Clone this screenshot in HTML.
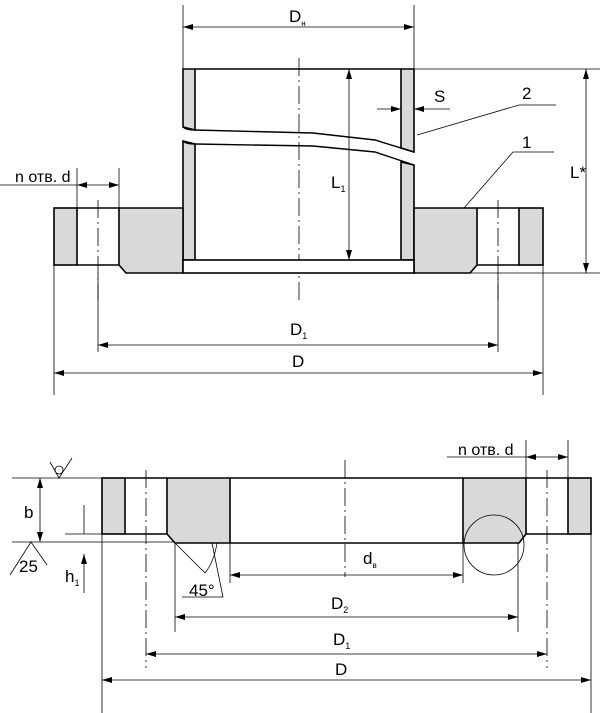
<!DOCTYPE html>
<html><head><meta charset="utf-8"><style>
html,body{margin:0;padding:0;background:#fff;}
svg{display:block;}
text{font-family:"Liberation Sans",sans-serif;fill:#000;}
</style></head><body>
<svg width="600" height="713" viewBox="0 0 600 713" xmlns="http://www.w3.org/2000/svg">
<defs>
<marker id="a" viewBox="0 0 10 6" refX="10" refY="3" markerWidth="10" markerHeight="6" orient="auto-start-reverse" markerUnits="userSpaceOnUse"><path d="M0,0 L10,3 L0,6 Z" fill="#000"/></marker>
</defs>
<g stroke="#000" fill="none" stroke-width="0.8">
<line x1="183" y1="5" x2="183" y2="69"/><line x1="414" y1="5" x2="414" y2="69"/>
<line x1="183" y1="27" x2="414" y2="27" marker-start="url(#a)" marker-end="url(#a)"/>
<line x1="299" y1="58" x2="299" y2="300" stroke-dasharray="18,4,2,4"/>
<line x1="98" y1="200" x2="98" y2="300" stroke-dasharray="18,4,2,4"/>
<line x1="498" y1="200" x2="498" y2="300" stroke-dasharray="18,4,2,4"/>
<path d="M183,69 L195,69 L195,130 L183,127 Z" fill="#d9d9d9" stroke-width="1.6"/>
<path d="M401,69 L414,69 L414,152 L401,148 Z" fill="#d9d9d9" stroke-width="1.6"/>
<path d="M183,141 L195,144 L195,260 L183,260 Z" fill="#d9d9d9" stroke-width="1.6"/>
<path d="M401,162 L414,165 L414,260 L401,260 Z" fill="#d9d9d9" stroke-width="1.6"/>
<line x1="195" y1="69" x2="401" y2="69" stroke-width="1.6"/>
<path d="M183,127 Q186,130 195,130 L313,133 L375,140 L414,152" stroke-width="1.4"/>
<path d="M183,141 Q186,144 195,144 L313,146 L375,152 L414,165" stroke-width="1.4"/>
<rect x="54" y="208" width="23" height="57" fill="#d9d9d9" stroke-width="1.6"/>
<path d="M77,208 L119,208 M77,265 L119,265" stroke-width="1.6"/>
<path d="M119,208 L183,208 L183,273 L126,273 L119,265 Z" fill="#d9d9d9" stroke-width="1.6"/>
<path d="M414,208 L477,208 L477,265 L470,273 L414,273 Z" fill="#d9d9d9" stroke-width="1.6"/>
<path d="M477,208 L519,208 M477,265 L519,265" stroke-width="1.6"/>
<rect x="519" y="208" width="24" height="57" fill="#d9d9d9" stroke-width="1.6"/>
<rect x="183" y="260" width="231" height="13" fill="#fff" stroke-width="1.6"/>
<line x1="349" y1="69" x2="349" y2="260" marker-start="url(#a)" marker-end="url(#a)"/>
<line x1="377" y1="109" x2="401" y2="109" marker-end="url(#a)"/>
<line x1="450" y1="109" x2="414" y2="109" marker-end="url(#a)"/>
<polyline points="417,135 519,105 556,105"/>
<polyline points="464,208 513,152 554,152"/>
<line x1="414" y1="69" x2="600" y2="69"/><line x1="471" y1="273" x2="600" y2="273"/>
<line x1="586" y1="69" x2="586" y2="273" marker-start="url(#a)" marker-end="url(#a)"/>
<line x1="0" y1="185" x2="77" y2="185"/>
<line x1="77" y1="168" x2="77" y2="208"/><line x1="119" y1="168" x2="119" y2="208"/>
<line x1="77" y1="185" x2="119" y2="185" marker-start="url(#a)" marker-end="url(#a)"/>
<line x1="98" y1="273" x2="98" y2="352"/><line x1="498" y1="273" x2="498" y2="352"/>
<line x1="98" y1="345" x2="498" y2="345" marker-start="url(#a)" marker-end="url(#a)"/>
<line x1="54" y1="265" x2="54" y2="395"/><line x1="543" y1="265" x2="543" y2="395"/>
<line x1="54" y1="373" x2="543" y2="373" marker-start="url(#a)" marker-end="url(#a)"/>

<line x1="345" y1="460" x2="345" y2="577" stroke-dasharray="18,4,2,4"/>
<line x1="146" y1="470" x2="146" y2="668" stroke-dasharray="18,4,2,4"/>
<line x1="547" y1="470" x2="547" y2="668" stroke-dasharray="18,4,2,4"/>
<rect x="102" y="478" width="23" height="56" fill="#d9d9d9" stroke-width="1.6"/>
<path d="M125,478 L167,478 M125,534 L167,534" stroke-width="1.6"/>
<path d="M167,478 L230,478 L230,543 L175,543 L167,534 Z" fill="#d9d9d9" stroke-width="1.6"/>
<path d="M230,478 L463,478 M230,543 L463,543" stroke-width="1.6"/>
<path d="M463,478 L526,478 L526,534 L519,543 L463,543 Z" fill="#d9d9d9" stroke-width="1.6"/>
<path d="M526,478 L568,478 M526,534 L568,534" stroke-width="1.6"/>
<rect x="568" y="478" width="23" height="56" fill="#d9d9d9" stroke-width="1.6"/>
<circle cx="494" cy="545" r="30"/>
<polyline points="50,462 59,478 72,458"/><circle cx="59" cy="470" r="4"/>
<line x1="12" y1="478" x2="102" y2="478"/>
<line x1="12" y1="542" x2="175" y2="542"/>
<polyline points="10,575 31,542 47,565"/>
<line x1="40" y1="478" x2="40" y2="542" marker-start="url(#a)" marker-end="url(#a)"/>
<line x1="65" y1="534" x2="102" y2="534"/>
<line x1="84" y1="505" x2="84" y2="534"/>
<line x1="84" y1="593" x2="84" y2="554" marker-end="url(#a)"/>
<line x1="175" y1="543" x2="205" y2="573"/>
<path d="M217,543 Q214,562 205,573"/>
<polyline points="182,597 223,597 212,543"/>
<line x1="230" y1="543" x2="230" y2="583"/><line x1="463" y1="543" x2="463" y2="583"/>
<line x1="230" y1="575" x2="463" y2="575" marker-start="url(#a)" marker-end="url(#a)"/>
<line x1="175" y1="543" x2="175" y2="632"/><line x1="518" y1="543" x2="518" y2="632"/>
<line x1="175" y1="617" x2="518" y2="617" marker-start="url(#a)" marker-end="url(#a)"/>
<line x1="146" y1="654" x2="547" y2="654" marker-start="url(#a)" marker-end="url(#a)"/>
<line x1="102" y1="534" x2="102" y2="713"/><line x1="591" y1="534" x2="591" y2="713"/>
<line x1="102" y1="680" x2="591" y2="680" marker-start="url(#a)" marker-end="url(#a)"/>
<line x1="447" y1="457" x2="526" y2="457"/>
<line x1="526" y1="440" x2="526" y2="478"/><line x1="568" y1="440" x2="568" y2="478"/>
<line x1="526" y1="457" x2="568" y2="457" marker-start="url(#a)" marker-end="url(#a)"/>
</g>
<g font-size="17">
<text x="289" y="22">D<tspan font-size="8" dy="4">н</tspan></text>
<text x="331" y="188">L<tspan font-size="9" dy="4">1</tspan></text>
<text x="434" y="102">S</text>
<text x="522" y="99">2</text>
<text x="522" y="148">1</text>
<text x="570" y="178">L*</text>
<text x="15" y="182" font-size="16">n отв. d</text>
<text x="290" y="335">D<tspan font-size="9" dy="4">1</tspan></text>
<text x="292" y="367">D</text>
<text x="458" y="455" font-size="16">n отв. d</text>
<text x="24" y="518">b</text>
<text x="19" y="572">25</text>
<text x="65" y="582">h<tspan font-size="9" dy="4">1</tspan></text>
<text x="189" y="596">45°</text>
<text x="363" y="564">d<tspan font-size="8" dy="4">в</tspan></text>
<text x="331" y="609">D<tspan font-size="9" dy="4">2</tspan></text>
<text x="333" y="645">D<tspan font-size="9" dy="4">1</tspan></text>
<text x="335" y="675">D</text>
</g>
</svg>
</body></html>
